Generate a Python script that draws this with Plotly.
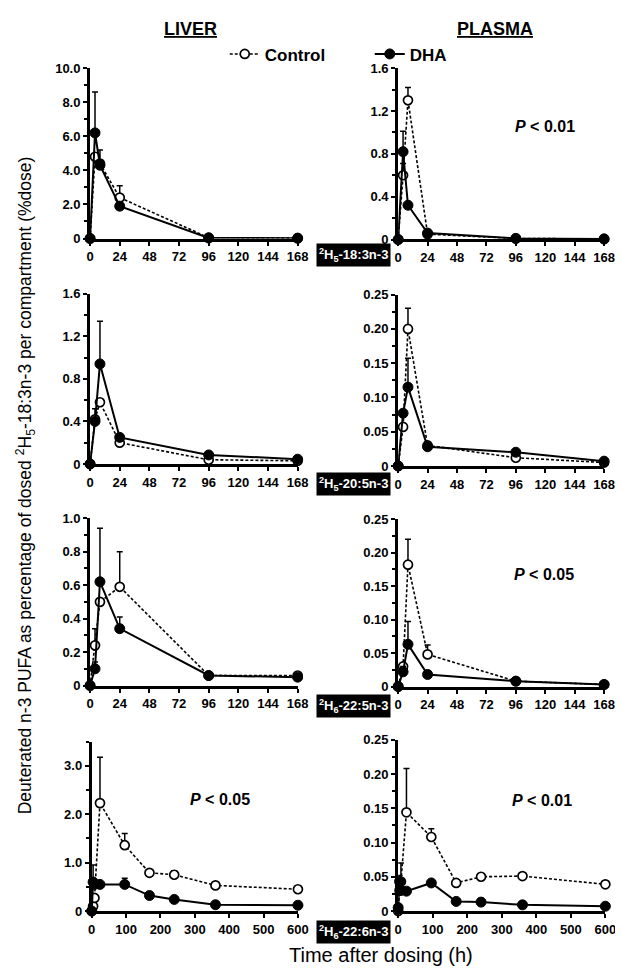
import plotly.graph_objects as go

# ---------------- data ----------------
time_short = [0, 4, 8, 24, 96, 168]
time_long = [0, 4, 8, 24, 96, 168, 240, 360, 600]

liver_183_control = [0, 4.8, 4.4, 2.4, 0.05, 0.02]
liver_183_control_err = [0, 0, 0.8, 0.7, 0, 0]
liver_183_dha = [0, 6.2, 4.3, 1.9, 0.03, 0.02]
liver_183_dha_err = [0, 2.4, 0.3, 0, 0, 0]

plasma_183_control = [0, 0.6, 1.3, 0.05, 0.01, 0.005]
plasma_183_control_err = [0, 0.11, 0.12, 0, 0, 0]
plasma_183_dha = [0, 0.82, 0.32, 0.06, 0.01, 0.005]
plasma_183_dha_err = [0, 0.19, 0.02, 0.01, 0, 0]

liver_205_control = [0, 0.42, 0.58, 0.2, 0.04, 0.03]
liver_205_control_err = [0, 0.1, 0, 0, 0, 0]
liver_205_dha = [0, 0.4, 0.94, 0.25, 0.085, 0.045]
liver_205_dha_err = [0, 0, 0.4, 0.02, 0.01, 0]

plasma_205_control = [0, 0.057, 0.2, 0.03, 0.012, 0.005]
plasma_205_control_err = [0, 0, 0.03, 0.005, 0, 0]
plasma_205_dha = [0, 0.077, 0.115, 0.028, 0.02, 0.007]
plasma_205_dha_err = [0, 0.005, 0.042, 0, 0.003, 0]

liver_225_control = [0, 0.24, 0.5, 0.59, 0.06, 0.06]
liver_225_control_err = [0, 0.1, 0, 0.21, 0, 0]
liver_225_dha = [0, 0.1, 0.62, 0.34, 0.06, 0.05]
liver_225_dha_err = [0, 0.04, 0.32, 0.07, 0, 0]

plasma_225_control = [0, 0.03, 0.182, 0.048, 0.008, 0.003]
plasma_225_control_err = [0, 0, 0.038, 0.014, 0, 0]
plasma_225_dha = [0, 0.022, 0.063, 0.018, 0.008, 0.003]
plasma_225_dha_err = [0, 0.008, 0.034, 0, 0, 0]

liver_226_control = [0, 0.1, 0.27, 2.23, 1.36, 0.79, 0.75, 0.53, 0.45]
liver_226_control_err = [0, 0, 0, 0.95, 0.24, 0.04, 0.08, 0.03, 0]
liver_226_dha = [0, 0.6, 0.55, 0.55, 0.55, 0.32, 0.24, 0.13, 0.12]
liver_226_dha_err = [0, 0.35, 0, 0, 0.13, 0, 0, 0, 0]

plasma_226_control = [0, 0.03, 0.043, 0.144, 0.108, 0.041, 0.05, 0.051, 0.039]
plasma_226_control_err = [0, 0, 0.027, 0.064, 0.012, 0, 0.002, 0.004, 0]
plasma_226_dha = [0.005, 0.043, 0.03, 0.029, 0.041, 0.014, 0.013, 0.009, 0.007]
plasma_226_dha_err = [0, 0.009, 0, 0, 0, 0, 0, 0, 0]

x_ticks_short = [0, 24, 48, 72, 96, 120, 144, 168]
x_ticks_long = [0, 100, 200, 300, 400, 500, 600]

y_ticks_liver_183 = [0, 2, 4, 6, 8, 10]
y_text_liver_183 = ["0", "2.0", "4.0", "6.0", "8.0", "10.0"]
y_ticks_plasma_183 = [0, 0.4, 0.8, 1.2, 1.6]
y_text_plasma_183 = ["0", "0.4", "0.8", "1.2", "1.6"]
y_ticks_liver_205 = [0, 0.4, 0.8, 1.2, 1.6]
y_text_liver_205 = ["0", "0.4", "0.8", "1.2", "1.6"]
y_ticks_small = [0, 0.05, 0.10, 0.15, 0.20, 0.25]
y_text_small = ["0", "0.05", "0.10", "0.15", "0.20", "0.25"]
y_ticks_liver_225 = [0, 0.2, 0.4, 0.6, 0.8, 1.0]
y_text_liver_225 = ["0", "0.2", "0.4", "0.6", "0.8", "1.0"]
y_ticks_liver_226 = [0, 1, 2, 3]
y_text_liver_226 = ["0", "1.0", "2.0", "3.0"]

compound_labels = [
    "<sup>2</sup>H<sub>5</sub>-18:3n-3",
    "<sup>2</sup>H<sub>5</sub>-20:5n-3",
    "<sup>2</sup>H<sub>6</sub>-22:5n-3",
    "<sup>2</sup>H<sub>6</sub>-22:6n-3",
]
p_labels = ["<i>P</i> < 0.01", "<i>P</i> < 0.05", "<i>P</i> < 0.05", "<i>P</i> < 0.01"]

# ---------------- layout helpers ----------------
W, H = 623, 977
def px_x(p):
    return p / W
def px_y(p):
    return 1 - p / H

FONT = "Liberation Sans, Arial, sans-serif"
TICKFONT = dict(family="Liberation Sans Narrow, Liberation Sans, Arial", size=13, color="black", weight="bold")

panels = [
    (time_short, liver_183_control, liver_183_control_err, liver_183_dha, liver_183_dha_err,
     (80, 292.7), (227, 54), [0, 10], y_ticks_liver_183, y_text_liver_183, 1.0, x_ticks_short, [0, 168]),
    (time_short, plasma_183_control, plasma_183_control_err, plasma_183_dha, plasma_183_dha_err,
     (395.7, 606.7), (228, 54), [0, 1.6], y_ticks_plasma_183, y_text_plasma_183, 0.2, x_ticks_short, [0, 168]),
    (time_short, liver_205_control, liver_205_control_err, liver_205_dha, liver_205_dha_err,
     (80, 292.7), (456, 283), [0, 1.6], y_ticks_liver_205, y_text_liver_205, 0.2, x_ticks_short, [0, 168]),
    (time_short, plasma_205_control, plasma_205_control_err, plasma_205_dha, plasma_205_dha_err,
     (395.7, 606.7), (458, 284), [0, 0.25], y_ticks_small, y_text_small, 0.025, x_ticks_short, [0, 168]),
    (time_short, liver_225_control, liver_225_control_err, liver_225_dha, liver_225_dha_err,
     (80, 292.7), (681, 511), [0, 1.0], y_ticks_liver_225, y_text_liver_225, 0.1, x_ticks_short, [0, 168]),
    (time_short, plasma_225_control, plasma_225_control_err, plasma_225_dha, plasma_225_dha_err,
     (395.7, 606.7), (682, 512), [0, 0.25], y_ticks_small, y_text_small, 0.025, x_ticks_short, [0, 168]),
    (time_long, liver_226_control, liver_226_control_err, liver_226_dha, liver_226_dha_err,
     (81.7, 293), (910, 738), [0, 3.5], y_ticks_liver_226, y_text_liver_226, 0.5, x_ticks_long, [0, 600]),
    (time_long, plasma_226_control, plasma_226_control_err, plasma_226_dha, plasma_226_dha_err,
     (395.7, 608), (910, 736), [0, 0.25], y_ticks_small, y_text_small, 0.025, x_ticks_long, [0, 600]),
]

fig = go.Figure()
layout = {}
for i, (t, c, ce, d, de, xd, yd, yr, ytv, ytt, minor, xtv, xr) in enumerate(panels):
    n = "" if i == 0 else str(i + 1)
    xa, ya = "x" + n, "y" + n
    fig.add_trace(go.Scatter(
        x=t, y=c, xaxis=xa, yaxis=ya, mode="lines+markers", name="Control",
        showlegend=(i == 0), cliponaxis=False,
        line=dict(color="black", width=1.6, dash="3px,2px"),
        marker=dict(symbol="circle", size=9, color="white", line=dict(color="black", width=1.7)),
        error_y=dict(type="data", symmetric=False, array=ce, arrayminus=[0] * len(c),
                     color="black", thickness=1.5, width=3),
    ))
    fig.add_trace(go.Scatter(
        x=t, y=d, xaxis=xa, yaxis=ya, mode="lines+markers", name="DHA",
        showlegend=(i == 0), cliponaxis=False,
        line=dict(color="black", width=2),
        marker=dict(symbol="circle", size=10, color="black", line=dict(color="black", width=1)),
        error_y=dict(type="data", symmetric=False, array=de, arrayminus=[0] * len(d),
                     color="black", thickness=1.5, width=3),
    ))
    layout["xaxis" + n] = dict(
        domain=[px_x(xd[0]), px_x(xd[1])], anchor=ya, range=xr, tickvals=xtv,
        ticktext=[str(v) for v in xtv], showgrid=False, zeroline=False,
        showline=True, linecolor="black", linewidth=3, ticks="outside", ticklen=4,
        tickwidth=2, tickcolor="black", tickfont=TICKFONT, fixedrange=True,
    )
    layout["yaxis" + n] = dict(
        domain=[px_y(yd[0]), px_y(yd[1])], anchor=xa, range=yr, tickvals=ytv,
        ticktext=ytt, showgrid=False, zeroline=False,
        showline=True, linecolor="black", linewidth=3, ticks="outside", ticklen=4,
        tickwidth=2, tickcolor="black", tickfont=TICKFONT, fixedrange=True,
        minor=dict(dtick=minor, tick0=0, ticks="outside", ticklen=3, tickwidth=1.5,
                   tickcolor="black", showgrid=False),
    )

annotations = []
# compound labels (black boxes)
label_y = [244, 476, 702, 931]
for lab, yy in zip(compound_labels, label_y):
    annotations.append(dict(
        text=lab, x=px_x(388), y=px_y(yy), xref="paper", yref="paper",
        xanchor="right", yanchor="middle", showarrow=False,
        bgcolor="black", font=dict(family=FONT, size=13, color="white", weight="bold"),
        borderpad=2,
    ))
# p-values
p_pos = [(546, 113), (545, 568), (213, 797), (543, 798)]
for lab, (xx, yy) in zip(p_labels, p_pos):
    annotations.append(dict(
        text=lab, x=px_x(xx), y=px_y(yy), xref="paper", yref="paper",
        xanchor="center", yanchor="middle", showarrow=False,
        font=dict(family=FONT, size=16, color="black", weight="bold"),
    ))
# headers
annotations.append(dict(text="<u>LIVER</u>", x=px_x(183), y=px_y(14), xref="paper", yref="paper",
                        showarrow=False, xanchor="center", yanchor="middle",
                        font=dict(family=FONT, size=18, color="black", weight="bold")))
annotations.append(dict(text="<u>PLASMA</u>", x=px_x(495), y=px_y(14), xref="paper", yref="paper",
                        showarrow=False, xanchor="center", yanchor="middle",
                        font=dict(family=FONT, size=18, color="black", weight="bold")))
# axis titles
annotations.append(dict(
    text="Deuterated n-3 PUFA as percentage of dosed <sup>2</sup>H<sub>5</sub>-18:3n-3 per compartment (%dose)",
    x=px_x(14), y=px_y(478), xref="paper", yref="paper", textangle=-90,
    showarrow=False, xanchor="center", yanchor="middle",
    font=dict(family=FONT, size=17.5, color="black")))
annotations.append(dict(
    text="Time after dosing (h)", x=px_x(378), y=px_y(955), xref="paper", yref="paper",
    showarrow=False, xanchor="center", yanchor="middle",
    font=dict(family=FONT, size=20, color="black")))

fig.update_layout(
    width=W, height=H, margin=dict(l=0, r=0, t=0, b=0),
    paper_bgcolor="white", plot_bgcolor="white",
    showlegend=True,
    legend=dict(orientation="h", x=px_x(218), y=px_y(40), xanchor="left", yanchor="middle",
                font=dict(family=FONT, size=17, color="black", weight="bold"),
                entrywidth=100, entrywidthmode="pixels", bgcolor="rgba(0,0,0,0)",
                itemclick=False, itemdoubleclick=False),
    annotations=annotations,
    **layout,
)

fig.write_html("out.html")
